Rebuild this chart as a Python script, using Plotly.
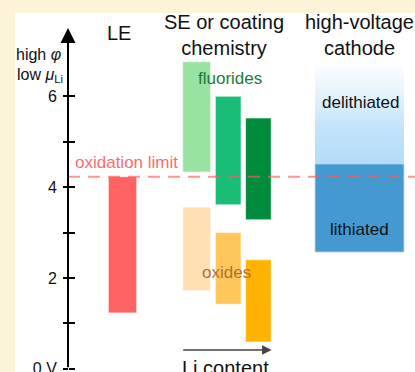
import plotly.graph_objects as go

# ---------------- data ----------------
column_titles = ["LE", "SE or coating<br>chemistry", "high-voltage<br>cathode"]
le_range = [1.23, 4.23]                     # liquid electrolyte window (low, high)
fluoride_low = [4.33, 3.61, 3.28]
fluoride_high = [6.76, 6.00, 5.52]
oxide_low = [1.72, 1.42, 0.59]
oxide_high = [3.56, 3.00, 2.40]
cathode_lithiated = [2.57, 4.51]
cathode_delithiated = [4.51, 6.75]
oxidation_limit = 4.23
tick_values = [0, 1, 2, 3, 4, 5, 6]
tick_labels = ["0 V", "", "2", "", "4", "", "6"]
axis_top = 7.5

# ---------------- layout constants ----------------
FONT = "Liberation Sans, Arial, Helvetica, sans-serif"
X_MAX = 13.115
AXIS_X = 1.738
AXIS_POS = AXIS_X / X_MAX
LE_X, LE_W = 3.525, 0.93
SE_X = [5.957, 6.99, 7.98]
SE_W = [0.918, 0.843, 0.84]
CAT_X, CAT_W = 11.295, 2.918

fluoride_colors = ["#98e2a2", "#19bd76", "#008c3c"]
oxide_colors = ["#ffe0b3", "#ffc65c", "#ffb300"]
edge = dict(color="rgba(255,255,255,0.6)", width=1)

fig = go.Figure()

# LE bar
fig.add_trace(go.Bar(x=[LE_X], y=[le_range[1] - le_range[0]], base=[le_range[0]],
                     width=[LE_W], marker=dict(color="#ff6363", line=edge)))
# fluorides
fig.add_trace(go.Bar(x=SE_X, y=[h - l for h, l in zip(fluoride_high, fluoride_low)],
                     base=fluoride_low, width=SE_W,
                     marker=dict(color=fluoride_colors, line=edge)))
# oxides
fig.add_trace(go.Bar(x=SE_X, y=[h - l for h, l in zip(oxide_high, oxide_low)],
                     base=oxide_low, width=SE_W,
                     marker=dict(color=oxide_colors, line=edge)))
# cathode lithiated
fig.add_trace(go.Bar(x=[CAT_X], y=[cathode_lithiated[1] - cathode_lithiated[0]],
                     base=[cathode_lithiated[0]], width=[CAT_W],
                     marker=dict(color="#4499d0", line=dict(color="rgba(190,220,245,0.8)", width=1))))
# cathode delithiated (gradient)
xl, xr = CAT_X - CAT_W / 2, CAT_X + CAT_W / 2
lo, hi = cathode_delithiated
fig.add_trace(go.Scatter(x=[xl, xr, xr, xl, xl], y=[lo, lo, hi, hi, lo],
                         mode="lines", line=dict(width=0, color="rgba(0,0,0,0)"),
                         fill="toself",
                         fillgradient=dict(type="vertical",
                                           colorscale=[[0, "#b3dcf8"], [0.35, "#c2e3fa"],
                                                       [0.75, "#eaf5fd"], [1, "#ffffff"]])))

# dashed oxidation limit
fig.add_trace(go.Scatter(x=[AXIS_X, X_MAX], y=[oxidation_limit, oxidation_limit],
                         mode="lines", cliponaxis=True,
                         line=dict(color="rgba(255,90,90,0.65)", width=2, dash="12px,8px")))

ann = []
# axis with arrow
ann.append(dict(x=AXIS_X, y=axis_top, ax=AXIS_X, ay=0, xref="x", yref="y",
                axref="x", ayref="y", text="", showarrow=True, arrowhead=2,
                arrowsize=1.5, arrowwidth=2, arrowcolor="black", standoff=0))
# Li content arrow
ann.append(dict(x=8.416, y=0.414, ax=5.466, ay=0.414, xref="x", yref="y",
                axref="x", ayref="y", text="", showarrow=True, arrowhead=2,
                arrowsize=1.2, arrowwidth=1.6, arrowcolor="#444", standoff=0))
ann.append(dict(x=6.89, y=0.02, xref="x", yref="y", text="Li content", showarrow=False,
                font=dict(size=20, color="#111", family=FONT), xanchor="center", yanchor="middle"))

# titles
ann.append(dict(x=3.41, y=7.39, xref="x", yref="y", text=column_titles[0], showarrow=False,
                font=dict(size=20, color="#111", family=FONT)))
ann.append(dict(x=6.85, y=7.34, xref="x", yref="y", text=column_titles[1], showarrow=False,
                font=dict(size=20, color="#111", family=FONT)))
ann.append(dict(x=11.3, y=7.34, xref="x", yref="y", text=column_titles[2], showarrow=False,
                font=dict(size=20, color="#111", family=FONT)))

# axis labels
ann.append(dict(x=1.574, y=6.91, xref="x", yref="y", text="high <i>φ</i>", showarrow=False,
                xanchor="right", font=dict(size=16, color="#111", family=FONT)))
ann.append(dict(x=1.64, y=6.45, xref="x", yref="y", text="low <i>μ</i><sub>Li</sub>",
                showarrow=False, xanchor="right", font=dict(size=16, color="#111", family=FONT)))

# labels
ann.append(dict(x=7.05, y=6.40, xref="x", yref="y", text="fluorides", showarrow=False,
                font=dict(size=17, color="#1c7a3a", family=FONT)))
ann.append(dict(x=6.95, y=2.13, xref="x", yref="y", text="oxides", showarrow=False,
                font=dict(size=17, color="#b36e36", family=FONT)))
ann.append(dict(x=1.90, y=4.54, xref="x", yref="y", text="oxidation limit", showarrow=False,
                xanchor="left", font=dict(size=17, color="#ff6b6b", family=FONT)))
ann.append(dict(x=11.34, y=5.87, xref="x", yref="y", text="delithiated", showarrow=False,
                font=dict(size=17, color="#111", family=FONT)))
ann.append(dict(x=11.29, y=3.06, xref="x", yref="y", text="lithiated", showarrow=False,
                font=dict(size=17, color="#111", family=FONT)))

Y_RANGE = [-0.0704, 7.832]
fig.update_layout(
    width=415, height=372,
    margin=dict(l=15, r=0, t=13, b=0, autoexpand=False),
    paper_bgcolor="#fdf3d9", plot_bgcolor="white",
    showlegend=False, barmode="overlay",
    annotations=ann,
    xaxis=dict(range=[0, X_MAX], visible=False, fixedrange=True, automargin=False),
    yaxis=dict(range=Y_RANGE, anchor="free", position=AXIS_POS, showgrid=False,
               zeroline=False, showline=False, ticks="outside", ticklen=5, tickwidth=1.5,
               tickcolor="black", tickvals=tick_values, ticktext=tick_labels,
               tickfont=dict(size=16, color="#111", family=FONT), ticklabelstandoff=3,
               ticklabeloverflow="allow", automargin=False),
    yaxis2=dict(range=Y_RANGE, overlaying="y", anchor="free", position=AXIS_POS,
                showgrid=False, zeroline=False, showline=False, ticks="inside",
                ticklen=6, tickwidth=1.5, tickcolor="black", tickvals=tick_values,
                showticklabels=False, automargin=False),
)
# dummy trace to activate yaxis2
fig.add_trace(go.Scatter(x=[None], y=[None], yaxis="y2", showlegend=False))

fig.write_html("out.html")
